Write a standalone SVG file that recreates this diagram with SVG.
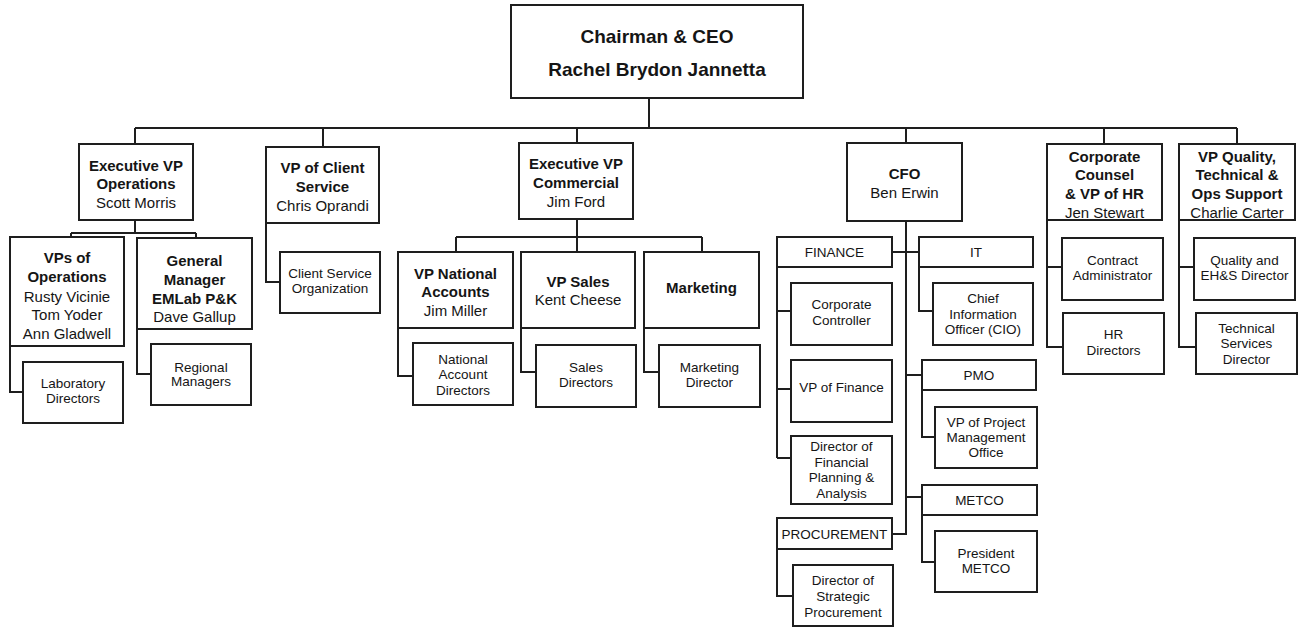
<svg xmlns="http://www.w3.org/2000/svg" width="1298" height="627" viewBox="0 0 1298 627">
<style>
.box{fill:#fff;stroke:#1e1e1e;stroke-width:2}
.ln{fill:none;stroke:#1e1e1e;stroke-width:2}
text{font-family:"Liberation Sans",Arial,sans-serif;text-anchor:middle;dominant-baseline:central;fill:#151515}
.ceo{font-size:19px;font-weight:bold}
.b{font-size:15px;font-weight:bold}
.r{font-size:15px}
.s{font-size:13.5px}
</style>
<rect width="1298" height="627" fill="#fff"/>
<g id="connectors">
<path class="ln" d="M649,98V128M135,128H1237M135,128V144M323,128V147M577,128V143M906,128V143M1104,128V144M1237,128V144"/>
<path class="ln" d="M135,220V233M71,233H196M71,233V237M196,233V238M10,346V392H23M137,329V374H151"/>
<path class="ln" d="M266,223V282H280"/>
<path class="ln" d="M577,219V237M456,237H702M456,237V252M577,237V252M702,237V252M398,328V376H413M521,328V372H536M644,328V372H659"/>
<path class="ln" d="M906,221V534H892M892,252H919M777,267V458M777,311H791M777,389H791M777,458H791M919,267V311H933M906,375H922M922,390V437H935M906,497H922M922,515V562H935M777,549V596H793"/>
<path class="ln" d="M1047,220V347H1063M1047,267H1062M1179,220V347H1196M1179,267H1194"/>
</g>
<g id="ceo"><rect class="box" x="511" y="5" width="292" height="93"/><text class="ceo" x="657" y="36">Chairman &amp; CEO</text><text class="ceo" x="657" y="69">Rachel Brydon Jannetta</text></g>
<g id="evp-ops"><rect class="box" x="79" y="144" width="114" height="76"/><text class="b" x="136" y="165">Executive VP</text><text class="b" x="136" y="183">Operations</text><text class="r" x="136" y="202">Scott Morris</text></g>
<g id="vps-ops"><rect class="box" x="10" y="237" width="114" height="109"/><text class="b" x="67" y="257">VPs of</text><text class="b" x="67" y="276">Operations</text><text class="r" x="67" y="296">Rusty Vicinie</text><text class="r" x="67" y="314">Tom Yoder</text><text class="r" x="67" y="333">Ann Gladwell</text></g>
<g id="gm"><rect class="box" x="137" y="238" width="115" height="91"/><text class="b" x="194.5" y="260">General</text><text class="b" x="194.5" y="279">Manager</text><text class="b" x="194.5" y="298">EMLab P&amp;K</text><text class="r" x="194.5" y="316">Dave Gallup</text></g>
<g id="lab-dir"><rect class="box" x="23" y="362" width="100" height="61"/><text class="s" x="73" y="383">Laboratory</text><text class="s" x="73" y="398">Directors</text></g>
<g id="reg-mgr"><rect class="box" x="151" y="344" width="100" height="61"/><text class="s" x="201" y="367">Regional</text><text class="s" x="201" y="381">Managers</text></g>
<g id="vp-client"><rect class="box" x="266" y="147" width="113" height="76"/><text class="b" x="322.5" y="167">VP of Client</text><text class="b" x="322.5" y="186">Service</text><text class="r" x="322.5" y="205">Chris Oprandi</text></g>
<g id="cso"><rect class="box" x="280" y="252" width="100" height="61"/><text class="s" x="330" y="273">Client Service</text><text class="s" x="330" y="288">Organization</text></g>
<g id="evp-comm"><rect class="box" x="519" y="143" width="114" height="76"/><text class="b" x="576" y="163">Executive VP</text><text class="b" x="576" y="182">Commercial</text><text class="r" x="576" y="201">Jim Ford</text></g>
<g id="vp-na"><rect class="box" x="398" y="252" width="115" height="76"/><text class="b" x="455.5" y="273">VP National</text><text class="b" x="455.5" y="291">Accounts</text><text class="r" x="455.5" y="310">Jim Miller</text></g>
<g id="vp-sales"><rect class="box" x="521" y="252" width="114" height="76"/><text class="b" x="578" y="281">VP Sales</text><text class="r" x="578" y="299">Kent Cheese</text></g>
<g id="marketing"><rect class="box" x="644" y="252" width="115" height="76"/><text class="b" x="701.5" y="287">Marketing</text></g>
<g id="nad"><rect class="box" x="413" y="343" width="100" height="62"/><text class="s" x="463" y="359">National</text><text class="s" x="463" y="374">Account</text><text class="s" x="463" y="390">Directors</text></g>
<g id="sales-dir"><rect class="box" x="536" y="345" width="100" height="62"/><text class="s" x="586" y="367">Sales</text><text class="s" x="586" y="382">Directors</text></g>
<g id="mkt-dir"><rect class="box" x="659" y="345" width="101" height="62"/><text class="s" x="709.5" y="367">Marketing</text><text class="s" x="709.5" y="382">Director</text></g>
<g id="cfo"><rect class="box" x="847" y="143" width="115" height="78"/><text class="b" x="904.5" y="173">CFO</text><text class="r" x="904.5" y="192">Ben Erwin</text></g>
<g id="finance"><rect class="box" x="777" y="237" width="115" height="30"/><text class="s" x="834.5" y="252">FINANCE</text></g>
<g id="it"><rect class="box" x="919" y="237" width="114" height="30"/><text class="s" x="976" y="252">IT</text></g>
<g id="corp-ctrl"><rect class="box" x="791" y="283" width="101" height="62"/><text class="s" x="841.5" y="304">Corporate</text><text class="s" x="841.5" y="320">Controller</text></g>
<g id="cio"><rect class="box" x="933" y="283" width="100" height="62"/><text class="s" x="983" y="298">Chief</text><text class="s" x="983" y="314">Information</text><text class="s" x="983" y="329">Officer (CIO)</text></g>
<g id="pmo"><rect class="box" x="922" y="360" width="114" height="30"/><text class="s" x="979" y="375">PMO</text></g>
<g id="vp-fin"><rect class="box" x="791" y="360" width="101" height="62"/><text class="s" x="841.5" y="387">VP of Finance</text></g>
<g id="vp-pmo"><rect class="box" x="935" y="407" width="102" height="61"/><text class="s" x="986" y="422">VP of Project</text><text class="s" x="986" y="437">Management</text><text class="s" x="986" y="452">Office</text></g>
<g id="dfpa"><rect class="box" x="791" y="436" width="101" height="68"/><text class="s" x="841.5" y="446">Director of</text><text class="s" x="841.5" y="462">Financial</text><text class="s" x="841.5" y="477">Planning &amp;</text><text class="s" x="841.5" y="493">Analysis</text></g>
<g id="metco"><rect class="box" x="922" y="485" width="115" height="30"/><text class="s" x="979.5" y="500">METCO</text></g>
<g id="pres-metco"><rect class="box" x="935" y="531" width="102" height="61"/><text class="s" x="986" y="553">President</text><text class="s" x="986" y="568">METCO</text></g>
<g id="procurement"><rect class="box" x="777" y="518" width="115" height="31"/><text class="s" x="834.5" y="534">PROCUREMENT</text></g>
<g id="dsp"><rect class="box" x="793" y="565" width="100" height="61"/><text class="s" x="843" y="580">Director of</text><text class="s" x="843" y="596">Strategic</text><text class="s" x="843" y="612">Procurement</text></g>
<g id="corp-counsel"><rect class="box" x="1047" y="144" width="115" height="76"/><text class="b" x="1104.5" y="156">Corporate</text><text class="b" x="1104.5" y="174">Counsel</text><text class="b" x="1104.5" y="193">&amp; VP of HR</text><text class="r" x="1104.5" y="212">Jen Stewart</text></g>
<g id="vp-quality"><rect class="box" x="1179" y="144" width="116" height="76"/><text class="b" x="1237" y="156">VP Quality,</text><text class="b" x="1237" y="174">Technical &amp;</text><text class="b" x="1237" y="193">Ops Support</text><text class="r" x="1237" y="212">Charlie Carter</text></g>
<g id="contract-admin"><rect class="box" x="1062" y="238" width="101" height="62"/><text class="s" x="1112.5" y="260">Contract</text><text class="s" x="1112.5" y="275">Administrator</text></g>
<g id="hr-dir"><rect class="box" x="1063" y="313" width="101" height="61"/><text class="s" x="1113.5" y="334">HR</text><text class="s" x="1113.5" y="350">Directors</text></g>
<g id="quality-ehs"><rect class="box" x="1194" y="238" width="101" height="62"/><text class="s" x="1244.5" y="260">Quality and</text><text class="s" x="1244.5" y="275">EH&amp;S Director</text></g>
<g id="tech-serv"><rect class="box" x="1196" y="313" width="101" height="61"/><text class="s" x="1246.5" y="328">Technical</text><text class="s" x="1246.5" y="343">Services</text><text class="s" x="1246.5" y="359">Director</text></g>
</svg>
